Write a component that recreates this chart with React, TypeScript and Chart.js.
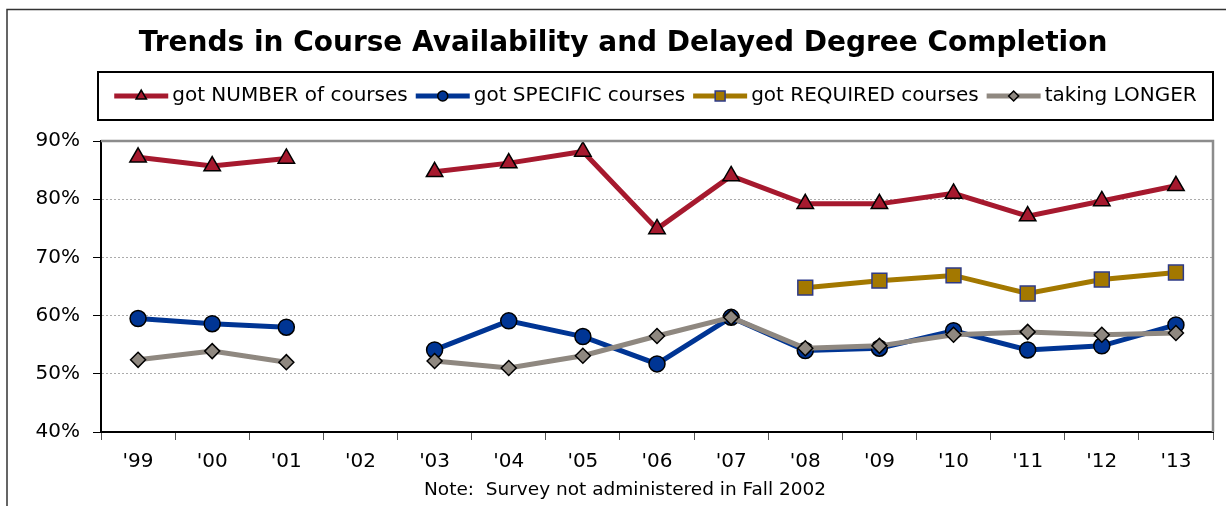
import React, { useEffect, useRef } from "react";
import { Chart, registerables } from "chart.js";
import { drawPoint } from "chart.js/helpers";

Chart.register(...registerables);

const titleText = "Trends in Course Availability and Delayed Degree Completion";
const noteText = "Note:  Survey not administered in Fall 2002";
const categories = ["'99", "'00", "'01", "'02", "'03", "'04", "'05", "'06", "'07", "'08", "'09", "'10", "'11", "'12", "'13"];
const numberCourses = [87.2, 85.7, 87.0, null, 84.7, 86.2, 88.2, 74.9, 84.0, 79.2, 79.2, 81.0, 77.1, 79.7, 82.3];
const specificCourses = [59.5, 58.6, 58.0, null, 54.1, 59.1, 56.4, 51.7, 59.7, 54.0, 54.4, 57.4, 54.1, 54.8, 58.4];
const requiredCourses = [null, null, null, null, null, null, null, null, null, 64.8, 66.0, 66.9, 63.8, 66.2, 67.4];
const takingLonger = [52.4, 53.9, 52.0, null, 52.2, 51.0, 53.1, 56.5, 59.7, 54.4, 54.8, 56.7, 57.2, 56.7, 57.0];
const seriesLabels = ["got NUMBER of courses", "got SPECIFIC courses", "got REQUIRED courses", "taking LONGER"];
const yTicks = [40, 50, 60, 70, 80, 90];

const FONT = "'DejaVu Sans', Verdana, sans-serif";

const legendItems = [
  { label: seriesLabels[0], color: "#A6192E", style: "triangle", fill: "#A6192E", border: "#000", r: 6 },
  { label: seriesLabels[1], color: "#003594", style: "circle", fill: "#003594", border: "#000", r: 5 },
  { label: seriesLabels[2], color: "#A37800", style: "rect", fill: "#A37800", border: "#2E3A87", r: 7 },
  { label: seriesLabels[3], color: "#8F8880", style: "rectRot", fill: "#8F8880", border: "#000", r: 5 },
];

const decorPlugin = {
  id: "decor",
  afterDraw(chart: any) {
    const ctx = chart.ctx;
    const a = chart.chartArea;
    ctx.save();
    // outer frame
    ctx.strokeStyle = "#333";
    ctx.lineWidth = 1.5;
    ctx.beginPath();
    ctx.moveTo(7, 506);
    ctx.lineTo(7, 9.5);
    ctx.lineTo(1226, 9.5);
    ctx.stroke();
    // plot top & right borders
    ctx.strokeStyle = "#8C8C8C";
    ctx.lineWidth = 2.5;
    ctx.beginPath();
    ctx.moveTo(a.left, a.top);
    ctx.lineTo(a.right, a.top);
    ctx.lineTo(a.right, a.bottom);
    ctx.stroke();
    // title
    ctx.fillStyle = "#000";
    ctx.font = `bold 28px ${FONT}`;
    ctx.textAlign = "center";
    ctx.textBaseline = "middle";
    ctx.fillText(titleText, 623, 44);
    // note
    ctx.font = `18.5px ${FONT}`;
    ctx.fillText(noteText, 625, 490);
    // legend box
    const bx = 98, by = 72, bw = 1115, bh = 48;
    ctx.strokeStyle = "#000";
    ctx.lineWidth = 2;
    ctx.strokeRect(bx, by, bw, bh);
    ctx.font = `20px ${FONT}`;
    const lineLen = 54, gapAfterLine = 4, gapItems = 8;
    const widths = legendItems.map((it) => ctx.measureText(it.label).width);
    const total = widths.reduce((s, w) => s + w, 0) + legendItems.length * (lineLen + gapAfterLine) + (legendItems.length - 1) * gapItems;
    let x = bx + (bw - total) / 2;
    const cy = by + bh / 2;
    legendItems.forEach((it, i) => {
      ctx.strokeStyle = it.color;
      ctx.lineWidth = 5;
      ctx.lineCap = "butt";
      ctx.beginPath();
      ctx.moveTo(x, cy);
      ctx.lineTo(x + lineLen, cy);
      ctx.stroke();
      ctx.fillStyle = it.fill;
      ctx.strokeStyle = it.border;
      ctx.lineWidth = 1.5;
      drawPoint(ctx, { pointStyle: it.style, radius: it.r, borderWidth: 1.5, rotation: 0 }, x + lineLen / 2, cy);
      x += lineLen + gapAfterLine;
      ctx.fillStyle = "#000";
      ctx.textAlign = "left";
      ctx.textBaseline = "middle";
      ctx.fillText(it.label, x, cy);
      x += widths[i] + gapItems;
    });
    ctx.restore();
  },
};

export default function App() {
  const ref = useRef<HTMLCanvasElement | null>(null);
  useEffect(() => {
    document.body.style.margin = "0";
    const canvas = ref.current;
    if (!canvas) return;
    const chart = new Chart(canvas, {
      type: "line",
      data: {
        labels: categories,
        datasets: [
          {
            label: seriesLabels[3],
            data: takingLonger,
            borderColor: "#8F8880",
            backgroundColor: "#8F8880",
            pointStyle: "rectRot",
            pointRadius: 7.5,
            pointBorderColor: "#000",
            pointBorderWidth: 1.5,
            borderWidth: 5,
            order: 0,
          },
          {
            label: seriesLabels[0],
            data: numberCourses,
            borderColor: "#A6192E",
            backgroundColor: "#A6192E",
            pointStyle: "triangle",
            pointRadius: 9.5,
            pointBorderColor: "#000",
            pointBorderWidth: 1.5,
            borderWidth: 5,
            order: 1,
          },
          {
            label: seriesLabels[2],
            data: requiredCourses,
            borderColor: "#A37800",
            backgroundColor: "#A37800",
            pointStyle: "rect",
            pointRadius: 10.5,
            pointBorderColor: "#2E3A87",
            pointBorderWidth: 1.5,
            borderWidth: 5,
            order: 2,
          },
          {
            label: seriesLabels[1],
            data: specificCourses,
            borderColor: "#003594",
            backgroundColor: "#003594",
            pointStyle: "circle",
            pointRadius: 8,
            pointBorderColor: "#000",
            pointBorderWidth: 1.5,
            borderWidth: 5,
            order: 3,
          },
        ],
      },
      options: {
        responsive: false,
        animation: false,
        spanGaps: false,
        layout: { padding: { top: 141, right: 13, bottom: 34, left: 0 } },
        plugins: { legend: { display: false }, title: { display: false }, tooltip: { enabled: false } },
        elements: { line: { tension: 0 } },
        scales: {
          x: {
            offset: true,
            grid: { display: true, offset: true, drawOnChartArea: false, drawTicks: true, tickLength: 8, tickColor: "#555" },
            border: { color: "#000", width: 2 },
            ticks: { color: "#000", font: { family: FONT, size: 20 }, padding: 10, maxRotation: 0, autoSkip: false },
            afterFit: (s: any) => { s.height = 40; },
          },
          y: {
            min: 40,
            max: 90,
            afterBuildTicks: (s: any) => { s.ticks = yTicks.map((v) => ({ value: v })); },
            grid: {
              color: (c: any) => (c.tick && (c.tick.value === 40 || c.tick.value === 90) ? "rgba(0,0,0,0)" : "#ABABAB"),
              lineWidth: 1,
              tickLength: 8,
              tickColor: "#000",
              tickBorderDash: [],
            },
            border: { color: "#000", width: 2, dash: [2, 2] },
            ticks: { color: "#000", font: { family: FONT, size: 20 }, padding: 13, callback: (v: any) => `${v}%` },
            afterFit: (s: any) => { s.width = 101; },
          },
        },
      },
      plugins: [decorPlugin],
    });
    return () => chart.destroy();
  }, []);
  return <canvas ref={ref} width={1226} height={506} style={{ display: "block" }} />;
}
